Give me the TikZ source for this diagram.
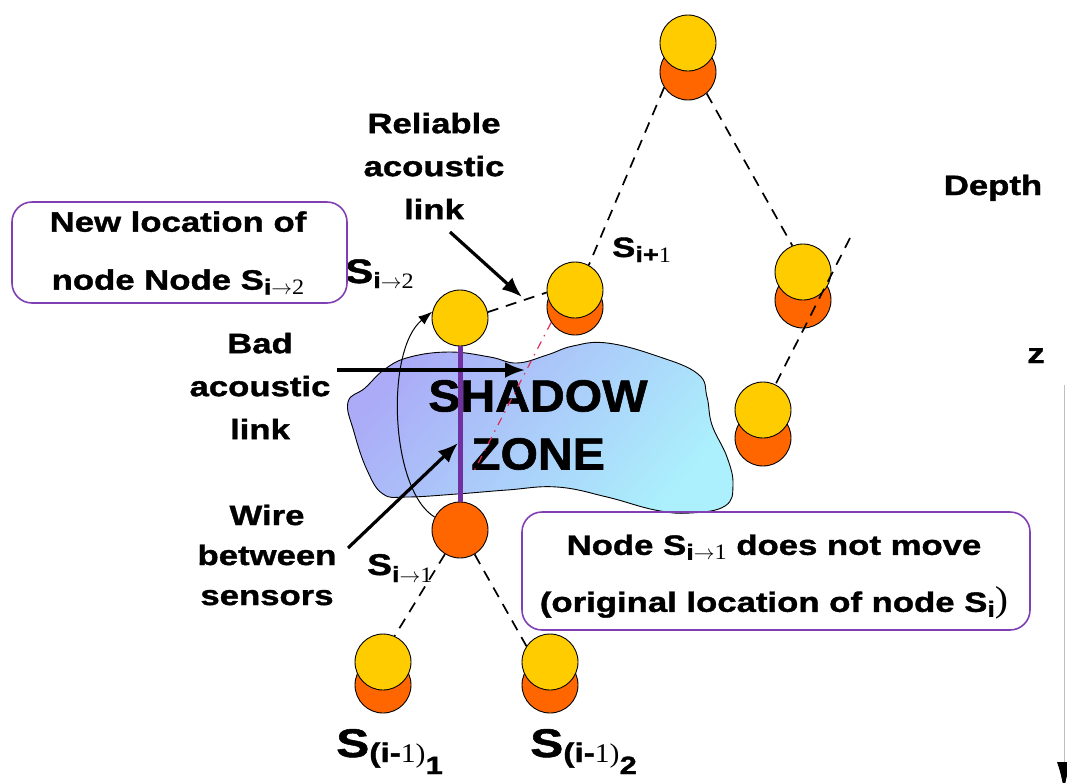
\documentclass[tikz,border=0pt]{standalone}
\usepackage{fontspec}
\setmainfont{Liberation Sans}[FakeStretch=1.24,FakeBold=1.3]
\newfontfamily\ser{Liberation Serif}[FakeStretch=1.1]
\newfontfamily\zfont{Liberation Sans}[FakeStretch=1.07,FakeBold=1.3]
\usetikzlibrary{arrows.meta}
\definecolor{syel}{HTML}{FFCC00}
\definecolor{sora}{HTML}{FF6600}
\definecolor{sbox}{HTML}{8040B4}
\definecolor{swire}{HTML}{7030A0}
\definecolor{sred}{HTML}{E0305A}
\definecolor{blobA}{HTML}{ABABF7}
\definecolor{blobB}{HTML}{ABF0FC}
\newcommand\ft[2]{\fontsize{#1}{#2}\selectfont}
\newcommand\sx[1]{\raisebox{-5pt}{\ft{22}{22}#1}}
\newcommand\rs[1]{{\ser\mdseries #1}}
\tikzset{
 yel/.style={circle, draw=black, line width=0.9pt, fill=syel, minimum size=56pt, inner sep=0pt},
 ora/.style={yel, fill=sora},
 dl/.style={dash pattern=on 11pt off 8pt, line width=1.7pt},
 arr/.style={line width=3.2pt, -{Latex[length=20pt,width=16pt]}},
 lbl/.style={align=center, inner sep=0pt},
 bx/.style={draw=sbox, line width=1.6pt, rounded corners=20pt, inner sep=0pt},
}
\begin{document}
\begin{tikzpicture}[x=1pt,y=-1pt]
\useasboundingbox (0,0) rectangle (1067,782);
% shadow zone
\shade[draw=black, line width=0.9pt, top color=blobA, bottom color=blobB, shading angle=50]
  plot[smooth cycle, tension=0.7] coordinates {(348,402) (365,388) (385,369) (410,357) (450,352) (490,357) (517,363) (547,355) (573,346) (607,343) (657,356) (698,374) (707,397) (712,425) (727,457) (733,485) (725,506) (690,513) (655,510) (607,497) (557,487) (507,490) (457,494) (407,497) (383,494) (367,470) (354,432)};
\node[font=\zfont\bfseries\ft{45}{58}, lbl] (sz) at (538,425) {SHADOW\\ZONE};
% sensors
\node[ora] (to) at (688,72) {};
\node[yel] (ty) at (688,43) {};
\node[ora] (ruo) at (803,300) {};
\node[yel] (ru) at (803,272) {};
\node[ora] (rlo) at (763,438) {};
\node[yel] (rl) at (763,410) {};
\node[ora] (sp1o) at (575,307) {};
\node[yel] (sp1) at (575,290) {};
\node[yel] (s2) at (460,318) {};
\node[ora] (s1) at (460,530) {};
\node[ora] (blo) at (383,685) {};
\node[yel] (bl) at (383,662) {};
\node[ora] (bro) at (550,685) {};
\node[yel] (br) at (550,662) {};
% links
\coordinate (rtop) at (850,238);
\coordinate (redend) at (472,475);
\draw[dl] (to.213) -- (sp1.61);
\draw[dl] (to.311) -- (ru.112);
\draw[dl] (rtop) -- (rl.64);
\draw[dl] (s2.12) -- (sp1.185);
\draw[dl] (s1.238) -- (bl.66);
\draw[dl] (s1.301) -- (br.146);
\draw[sred, line width=1.2pt, dash pattern=on 8pt off 6pt on 1.5pt off 6pt] (sp1o.213) -- (redend);
\draw[swire, line width=5pt] (s2.south) -- (s1.north);
\draw[line width=1pt, -{Latex[length=14pt,width=10pt]}] (s1.153) .. controls (390,490) and (385,350) .. (s2.167);
% labels
\node[lbl, font=\bfseries\ft{28}{43}] (rel) at (434,166) {Reliable\\acoustic\\link};
\node[lbl, font=\bfseries\ft{28}{43}] (bad) at (260,386) {Bad\\acoustic\\link};
\node[lbl, font=\bfseries\ft{28}{40}] (wire) at (267,555) {Wire\\between\\sensors};
\node[lbl, font=\bfseries\ft{28}{34}, anchor=base] (depth) at (993,195) {Depth};
\node[lbl, font=\bfseries\ft{28}{34}, anchor=base] (zz) at (1036,363) {z};
\coordinate (a1s) at (450,232);
\coordinate (a1e) at (522,297);
\coordinate (a2s) at (337,370);
\coordinate (a2e) at (525,370);
\coordinate (a3s) at (348,548);
\coordinate (a3e) at (458,443);
\draw[arr] (a1s) -- (a1e);
\draw[arr] (a2s) -- (a2e);
\draw[arr] (a3s) -- (a3e);
\node[lbl, font=\bfseries\ft{34}{34}, anchor=base west] (l2) at (345,283) {S\sx{i\rs{$\rightarrow$2}}};
\node[lbl, font=\bfseries\ft{28}{34}, anchor=base west] (lp1) at (612,257) {S\sx{i+\rs{1}}};
\node[lbl, font=\bfseries\ft{30}{34}, anchor=base west] (l1) at (367,575) {S\raisebox{-7pt}{\ft{22}{22}i\rs{$\rightarrow$1}}};
\node[lbl, font=\bfseries\ft{40}{40}, anchor=base west] (lb1) at (336,757) {S\raisebox{-5pt}{\ft{27}{27}(i-\rs{1)}\raisebox{-12pt}{\ft{25}{25}1}}};
\node[lbl, font=\bfseries\ft{40}{40}, anchor=base west] (lb2) at (530,757) {S\raisebox{-5pt}{\ft{27}{27}(i-\rs{1)}\raisebox{-12pt}{\ft{25}{25}2}}};
% boxes
\node[bx, minimum width=335pt, minimum height=101pt] (b1) at (179.5,252.5) {};
\node[lbl, font=\bfseries\ft{28}{58}] (b1t) at (178,253) {New location of\\node Node S\sx{i\rs{$\rightarrow$2}}};
\node[bx, minimum width=508pt, minimum height=118pt] (b2) at (776,571) {};
\node[lbl, font=\bfseries\ft{28}{57}] (b2t) at (774,577) {Node S\sx{i\rs{$\rightarrow$1}} does not move\\(original location of node S\sx{i}\rs{\ft{36}{36})}};
% depth axis
\draw[gray!50, line width=1pt, -{Latex[length=28pt,width=14pt,color=black]}] (1064,385) -- (1064,790);
\end{tikzpicture}
\end{document}
